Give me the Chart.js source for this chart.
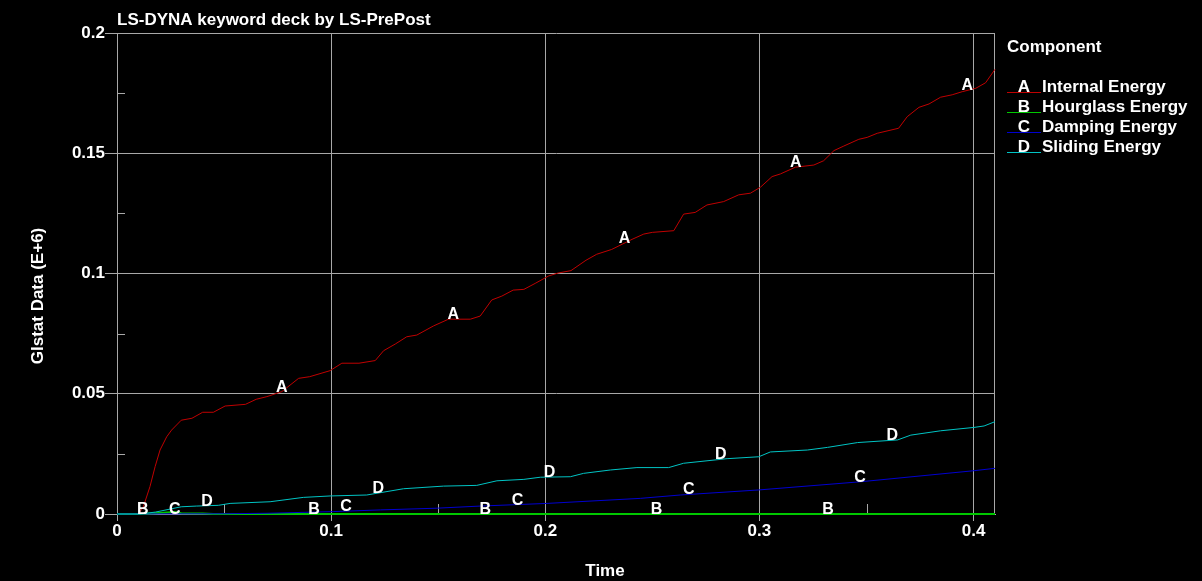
<!DOCTYPE html>
<html>
<head>
<meta charset="utf-8">
<script src="https://cdn.jsdelivr.net/npm/chart.js@4"></script>
<style>
  html, body { margin: 0; padding: 0; background: #000; }
  canvas { display: block; }
</style>
</head>
<body>
<canvas id="glstat" width="1202" height="581"></canvas>
<script>
// Internal Energy (A)
const tA = [0, 0.010, 0.0123, 0.0154, 0.0178, 0.0201, 0.0232, 0.0255, 0.030, 0.035, 0.040, 0.045, 0.0505, 0.060, 0.065, 0.070, 0.077, 0.0848, 0.090, 0.0995, 0.105, 0.113, 0.1206, 0.1245, 0.130, 0.1353, 0.140, 0.1478, 0.1548, 0.165, 0.1696, 0.175, 0.1797, 0.185, 0.190, 0.1953, 0.2016, 0.206, 0.212, 0.219, 0.224, 0.231, 0.2405, 0.246, 0.250, 0.260, 0.2646, 0.270, 0.2755, 0.2833, 0.2903, 0.2958, 0.3005, 0.3059, 0.3098, 0.3168, 0.3254, 0.330, 0.3348, 0.3394, 0.3464, 0.3503, 0.355, 0.365, 0.369, 0.3745, 0.3792, 0.3846, 0.390, 0.3947, 0.401, 0.4056, 0.41];
const vA = [0, 0, 0.003, 0.0114, 0.0197, 0.0266, 0.0321, 0.0349, 0.039, 0.0398, 0.0423, 0.0423, 0.0449, 0.0456, 0.0477, 0.0488, 0.0509, 0.0564, 0.0571, 0.0596, 0.0627, 0.0627, 0.0638, 0.0679, 0.0707, 0.0737, 0.0744, 0.0782, 0.081, 0.081, 0.0823, 0.089, 0.0906, 0.0931, 0.0934, 0.0959, 0.099, 0.1002, 0.1012, 0.1055, 0.1080, 0.1100, 0.1142, 0.1164, 0.1171, 0.1178, 0.1247, 0.1254, 0.1285, 0.1299, 0.1327, 0.1334, 0.1359, 0.1403, 0.1414, 0.1442, 0.1451, 0.1469, 0.1511, 0.153, 0.1558, 0.1566, 0.1583, 0.1604, 0.1652, 0.1691, 0.1705, 0.1733, 0.1743, 0.1756, 0.177, 0.1793, 0.1849];

// Hourglass Energy (B)
const tB = [0, 0.012, 0.027, 0.030, 0.040, 0.045, 0.41];
const vB = [0, 0, 0.0008, 0.0003, 0.0002, 0, 0];

// Damping Energy (C)
const tC = [0, 0.05, 0.07, 0.101, 0.123, 0.149, 0.1696, 0.2008, 0.2444, 0.263, 0.2997, 0.3472, 0.4002, 0.41];
const vC = [0, 0.0001, 0.0003, 0.001, 0.0017, 0.0024, 0.0033, 0.0044, 0.0065, 0.0079, 0.01, 0.0134, 0.018, 0.019];

// Sliding Energy (D)
const tD = [0, 0.0107, 0.018, 0.030, 0.037, 0.0473, 0.0528, 0.0715, 0.087, 0.0995, 0.1166, 0.1338, 0.1525, 0.168, 0.1774, 0.19, 0.1977, 0.2117, 0.2179, 0.2304, 0.2428, 0.2576, 0.2646, 0.2849, 0.2997, 0.3051, 0.3224, 0.3318, 0.3458, 0.3645, 0.3707, 0.3846, 0.4002, 0.4049, 0.41];
const vD = [0, 0, 0.0008, 0.003, 0.0033, 0.0036, 0.0044, 0.0051, 0.0069, 0.0075, 0.0079, 0.0105, 0.0116, 0.0119, 0.0138, 0.0144, 0.0153, 0.0155, 0.0169, 0.0183, 0.0193, 0.0193, 0.0211, 0.023, 0.0238, 0.0258, 0.0266, 0.0277, 0.0297, 0.0308, 0.0328, 0.0346, 0.036, 0.0366, 0.0384];

// where the curve letters sit (time values)
const markA = [0.077, 0.157, 0.237, 0.317, 0.397];
const markB = [0.012, 0.092, 0.172, 0.252, 0.332];
const markC = [0.027, 0.107, 0.187, 0.267, 0.347];
const markD = [0.042, 0.122, 0.202, 0.282, 0.362];

const letters = ['A', 'B', 'C', 'D'];
const names = ['Internal Energy', 'Hourglass Energy', 'Damping Energy', 'Sliding Energy'];
const colors = ['#c00000', '#00c800', '#0000d0', '#00c4c4'];

const xTicks = [0, 0.1, 0.2, 0.3, 0.4];
const yTicks = [0, 0.05, 0.1, 0.15, 0.2];
const xMinor = [0.05, 0.15, 0.25, 0.35];
const yMinor = [0.025, 0.075, 0.125, 0.175];

const FONT = '"Liberation Sans", Arial, sans-serif';
const GRID = '#a8a8a8';

function pts(ts, vs) { return ts.map((t, i) => ({ x: t, y: vs[i] })); }
function interp(ts, vs, t) {
  for (let i = 1; i < ts.length; i++) {
    if (t <= ts[i]) {
      const f = (t - ts[i - 1]) / (ts[i] - ts[i - 1]);
      return vs[i - 1] + f * (vs[i] - vs[i - 1]);
    }
  }
  return vs[vs.length - 1];
}

const series = [[tA, vA, markA], [tB, vB, markB], [tC, vC, markC], [tD, vD, markD]];

const overlay = {
  id: 'overlay',
  beforeDatasetsDraw(chart) {
    const { ctx, chartArea: a, scales: { x, y } } = chart;
    ctx.save();
    ctx.strokeStyle = GRID;
    ctx.lineWidth = 1;
    ctx.beginPath();
    xMinor.forEach(v => {
      const px = Math.round(x.getPixelForValue(v)) + 0.5;
      ctx.moveTo(px, a.bottom); ctx.lineTo(px, a.bottom - 10);
    });
    yMinor.forEach(v => {
      const py = Math.round(y.getPixelForValue(v)) + 0.5;
      ctx.moveTo(a.left, py); ctx.lineTo(a.left + 8, py);
    });
    // right frame
    ctx.moveTo(Math.round(a.right) - 0.5, a.top);
    ctx.lineTo(Math.round(a.right) - 0.5, a.bottom);
    ctx.stroke();
    ctx.restore();
  },
  afterDatasetsDraw(chart) {
    const { ctx, scales: { x, y } } = chart;
    ctx.save();
    ctx.fillStyle = '#fff';
    ctx.font = 'bold 16px ' + FONT;
    ctx.textAlign = 'center';
    ctx.textBaseline = 'alphabetic';
    series.forEach(([ts, vs, marks], i) => {
      marks.forEach(t => {
        const px = x.getPixelForValue(t);
        const py = y.getPixelForValue(interp(ts, vs, t));
        ctx.fillText(letters[i], px, py);
      });
    });
    ctx.restore();
  },
  afterDraw(chart) {
    const { ctx, chartArea: a } = chart;
    ctx.save();
    ctx.fillStyle = '#fff';
    ctx.font = 'bold 17px ' + FONT;
    ctx.textBaseline = 'alphabetic';
    ctx.textAlign = 'left';
    ctx.fillText('LS-DYNA keyword deck by LS-PrePost', a.left, 25);

    // legend
    const lx = a.right + 12;
    ctx.fillText('Component', lx, 52);
    letters.forEach((l, i) => {
      const by = 92 + i * 20;
      ctx.strokeStyle = colors[i];
      ctx.lineWidth = 1;
      ctx.beginPath();
      ctx.moveTo(lx, by + 0.5); ctx.lineTo(lx + 34, by + 0.5);
      ctx.stroke();
      ctx.textAlign = 'center';
      ctx.fillText(l, lx + 17, by);
      ctx.textAlign = 'left';
      ctx.fillText(names[i], lx + 35, by);
    });

    // axis titles
    ctx.textAlign = 'center';
    ctx.textBaseline = 'middle';
    ctx.fillText('Time', 605, 571);
    ctx.translate(38, 296);
    ctx.rotate(-Math.PI / 2);
    ctx.fillText('Glstat Data (E+6)', 0, 0);
    ctx.restore();
  }
};

Chart.defaults.font.family = FONT;
Chart.defaults.font.size = 17;
Chart.defaults.font.weight = 'bold';
Chart.defaults.color = '#fff';

new Chart(document.getElementById('glstat'), {
  type: 'line',
  data: {
    datasets: series.map(([ts, vs], i) => ({
      label: letters[i] + ' ' + names[i],
      data: pts(ts, vs),
      borderColor: colors[i],
      borderWidth: i === 1 ? 2 : 1,
      pointRadius: 0,
      tension: 0,
      fill: false,
      clip: false
    })).reverse()
  },
  options: {
    responsive: false,
    animation: false,
    layout: { padding: { top: 33, right: 207, left: 0, bottom: 0 } },
    plugins: { legend: { display: false }, tooltip: { enabled: false } },
    scales: {
      x: {
        type: 'linear',
        min: 0,
        max: 0.41,
        afterFit: s => { s.height = 67; },
        afterBuildTicks: s => { s.ticks = xTicks.map(v => ({ value: v })); },
        ticks: { color: '#fff', padding: 0, maxRotation: 0, callback: v => String(+v.toFixed(3)) },
        grid: { color: GRID, lineWidth: 1, drawTicks: true, tickLength: 7, tickColor: GRID },
        border: { display: true, color: GRID }
      },
      y: {
        type: 'linear',
        min: 0,
        max: 0.2,
        afterFit: s => { s.width = 117; },
        afterBuildTicks: s => { s.ticks = yTicks.map(v => ({ value: v })); },
        ticks: { color: '#fff', padding: 0, callback: v => String(+v.toFixed(3)) },
        grid: { color: GRID, lineWidth: 1, drawTicks: true, tickLength: 12, tickColor: GRID },
        border: { display: true, color: GRID }
      }
    }
  },
  plugins: [overlay]
});
</script>
</body>
</html>
